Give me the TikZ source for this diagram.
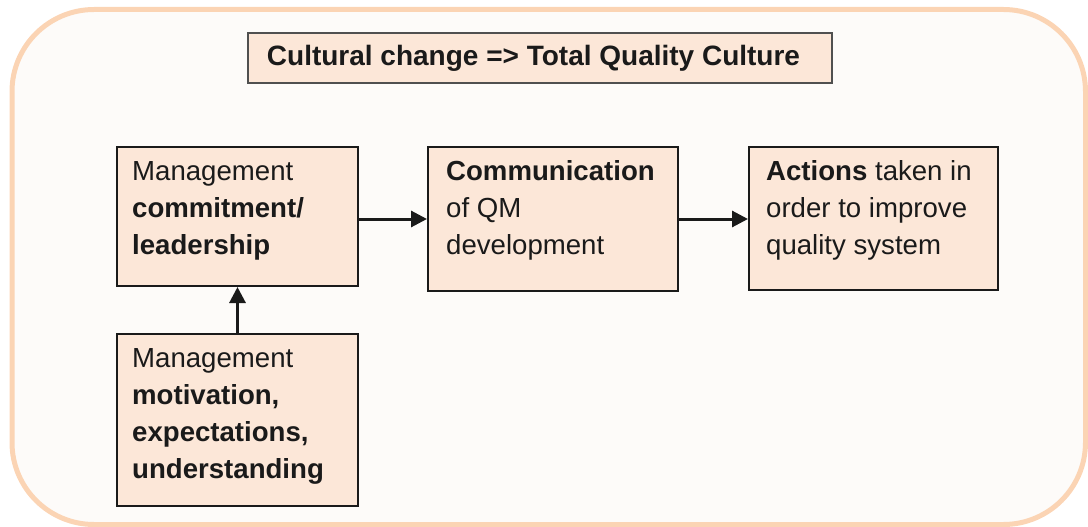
\documentclass[tikz,border=0pt]{standalone}
\usepackage{fontspec}
\setmainfont{Liberation Sans}
\usetikzlibrary{arrows.meta}
\definecolor{peach}{RGB}{251,212,180}
\definecolor{bgfill}{RGB}{253,251,249}
\definecolor{boxfill}{RGB}{252,231,216}
\definecolor{ink}{RGB}{26,26,26}
\definecolor{titleline}{RGB}{80,80,80}
\begin{document}
\begin{tikzpicture}[x=1pt,y=-1pt,
  stepbox/.style={draw=ink, line width=2pt, fill=boxfill, anchor=north west, inner sep=0pt},
  txt/.style={anchor=north west, inner sep=0pt, align=left, font=\fontsize{27.6}{37}\selectfont, text=ink},
  conn/.style={draw=ink, line width=3pt, -{Triangle[length=16pt,width=16pt]}}]
\useasboundingbox (0,0) rectangle (1088,527);
\draw[peach, line width=5pt, fill=bgfill, rounded corners=82pt] (12,9.5) rectangle (1085.5,524.5);
\node[draw=titleline, line width=1.5pt, fill=boxfill, minimum width=584pt, minimum height=50pt, inner sep=0pt,
      font=\fontsize{28}{33}\selectfont\bfseries, text=ink] (title) at (540,58) {Cultural change => Total Quality Culture\hspace*{13pt}};
\node[stepbox, minimum width=241pt, minimum height=139pt] (b1) at (116,146) {};
\node[stepbox, minimum width=250pt, minimum height=144pt] (b2) at (427,146) {};
\node[stepbox, minimum width=249pt, minimum height=143pt] (b3) at (748,146) {};
\node[stepbox, minimum width=241pt, minimum height=172pt] (b4) at (116,333) {};
\node[txt] (t1) at (132,161) {Management\\\textbf{commitment/}\\\textbf{leadership}};
\node[txt] (t2) at (446,160) {\textbf{Communication}\\of QM\\development};
\node[txt] (t3) at (766,160.5) {\textbf{Actions} taken in\\order to improve\\quality system};
\node[txt] (t4) at (132,348) {Management\\\textbf{motivation,}\\\textbf{expectations,}\\\textbf{understanding}};
\draw[conn] (b1.east |- b2.west) -- (b2.west);
\draw[conn] (b2.east) -- (b3.west |- b2.east);
\draw[conn] (b4.north) -- (b1.south);
\end{tikzpicture}
\end{document}
